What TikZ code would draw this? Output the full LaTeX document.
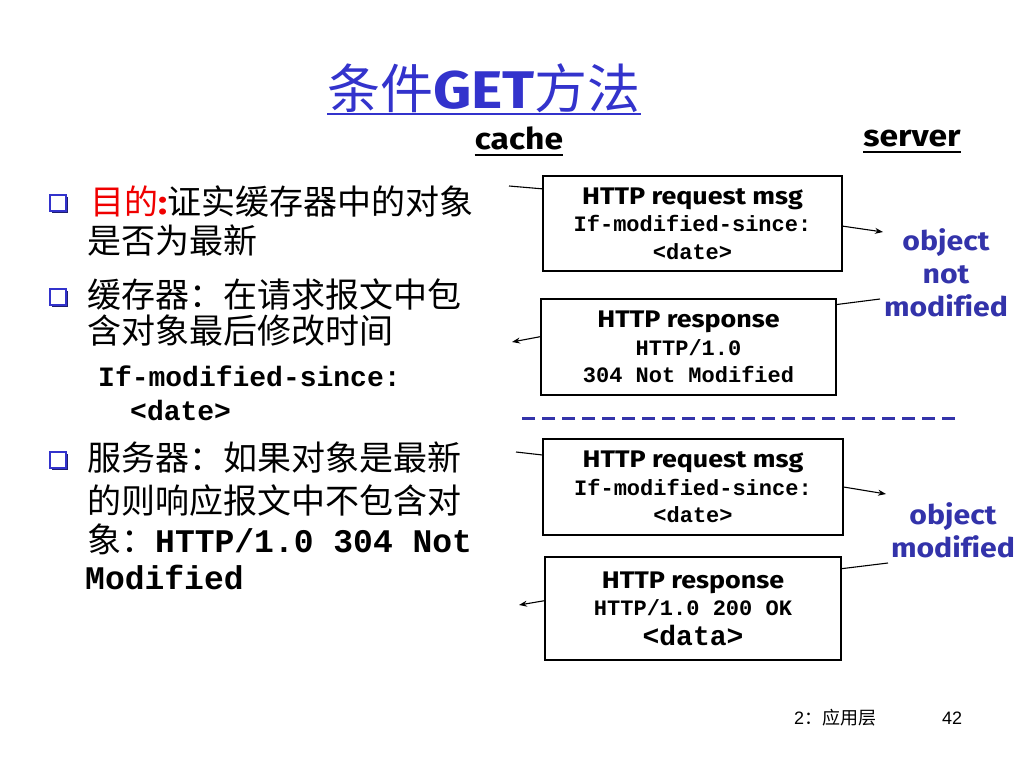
\documentclass[tikz,border=0pt]{standalone}
\usepackage{fontspec}
\setmainfont{Liberation Sans}
\newfontfamily\cjk{Noto Sans CJK SC}
\newfontfamily\comic[FakeStretch=1.12, Ligatures=NoCommon]{Fira Sans}
\newfontfamily\mono{Liberation Mono}
\usetikzlibrary{positioning, arrows.meta, shadows}

\definecolor{bleu}{RGB}{51,51,204}
\definecolor{bleufonce}{RGB}{51,51,170}
\definecolor{ombre}{RGB}{30,30,110}
\definecolor{rouge}{RGB}{240,0,0}

\tikzstyle{boite}=[rectangle, draw=black, line width=1.2pt, inner sep=0pt, align=center, font=\fontsize{22}{27.5}\selectfont]
\tikzstyle{fleche}=[line width=1.1pt, -{Stealth[length=8pt, width=6pt]}]
\tikzstyle{trait}=[line width=1.1pt]
\tikzstyle{puce}=[rectangle, draw=bleu, fill=white, line width=2.4pt, minimum size=16pt, inner sep=0pt, drop shadow={shadow xshift=2pt, shadow yshift=-2pt, fill=ombre, opacity=1}]
\tikzstyle{ligne}=[anchor=west, inner sep=0pt, font=\cjk\fontsize{34}{34}\selectfont]
\tikzstyle{etat}=[text=bleufonce, align=center, inner sep=0pt, font=\comic\bfseries\fontsize{27}{33}\selectfont]
\newcommand{\tete}[1]{{\comic\bfseries\fontsize{24}{27.5}\selectfont #1}}
\newcommand{\code}[1]{{\mono\bfseries #1}}

\begin{document}
\begin{tikzpicture}[x=1pt, y=-1pt]
        \useasboundingbox (0,0) rectangle (1024,768);
        \fill[white] (0,0) rectangle (1024,768);

        % Le titre
        \node[anchor=base, inner sep=0pt, text=bleu, font=\cjk\fontsize{53}{53}\selectfont] (titre) at (484,108) {条件{\comic\bfseries GET}方法};
        \draw[bleu, line width=2pt] ([yshift=-6pt]titre.base west) -- ([yshift=-6pt]titre.base east);
        \node[anchor=base, inner sep=0pt, font=\comic\bfseries\fontsize{30}{30}\selectfont] (cache) at (519,149) {cache};
        \draw[line width=1.8pt] ([yshift=-6pt]cache.base west) -- ([yshift=-6pt]cache.base east);
        \node[anchor=base, inner sep=0pt, font=\comic\bfseries\fontsize{30}{30}\selectfont] (server) at (912,146) {server};
        \draw[line width=1.8pt] ([yshift=-6pt]server.base west) -- ([yshift=-6pt]server.base east);

        % Les puces
        \node[puce] (p1) at (58,203) {};
        \node[puce] (p2) at (58,297) {};
        \node[puce] (p3) at (58,460) {};

        % Le texte
        \node[ligne] (l1) at (90,202) {{\color{rouge}目的{\comic\bfseries :}}证实缓存器中的对象};
        \node[ligne] (l2) at (87,241) {是否为最新};
        \node[ligne] (l3) at (87,295) {缓存器：在请求报文中包};
        \node[ligne] (l4) at (87,331) {含对象最后修改时间};
        \node[ligne, font=\mono\bfseries\fontsize{28}{28}\selectfont] (l5) at (98,376) {If-modified-since:};
        \node[ligne, font=\mono\bfseries\fontsize{28}{28}\selectfont] (l6) at (130,410) {<date>};
        \node[ligne] (l7) at (87,458) {服务器：如果对象是最新};
        \node[ligne] (l8) at (87,501) {的则响应报文中不包含对};
        \node[ligne] (l9) at (87,539) {象：{\mono\bfseries\fontsize{33}{33}\selectfont HTTP/1.0 304 Not}};
        \node[ligne, font=\mono\bfseries\fontsize{33}{33}\selectfont] (l10) at (85,577) {Modified};

        % Les boîtes
        \node[boite, minimum width=299pt, minimum height=95pt] (Q1) at (692.5,223.5) {\tete{HTTP request msg}\\ \code{If-modified-since:}\\ \code{<date>}};
        \node[boite, minimum width=295pt, minimum height=96pt] (R1) at (688.5,347) {\tete{HTTP response}\\ \code{HTTP/1.0}\\ \code{304 Not Modified}};
        \node[boite, minimum width=300pt, minimum height=96pt] (Q2) at (693,487) {\tete{HTTP request msg}\\ \code{If-modified-since:}\\ \code{<date>}};
        \node[boite, minimum width=296pt, minimum height=103pt] (R2) at (693,608.5) {\tete{HTTP response}\\ \code{HTTP/1.0 200 OK}\\[2pt] {\mono\bfseries\fontsize{28}{28}\selectfont <data>}};

        % Les états
        \node[etat] (nm) at (946,273) {object\\not\\modified};
        \node[etat] (m) at (953,530) {object\\modified};

        % La séparation
        \coordinate (s1) at (522,418);
        \coordinate (s2) at (962,418);
        \draw[bleufonce, line width=3pt, dash pattern=on 13pt off 7pt] (s1) -- (s2);

        % Les extrémités
        \coordinate (a1) at (509,186);
        \coordinate (b1) at (883,232);
        \coordinate (a2) at (880,299);
        \coordinate (b2) at (512,342);
        \coordinate (a3) at (516,452);
        \coordinate (b3) at (886,494);
        \coordinate (a4) at (888,563);
        \coordinate (b4) at (519,605);

        % Les arêtes
        \draw[trait] (a1) -- (Q1.167.7);
        \draw[fleche] (Q1.-1.3) -- (b1);
        \draw[trait] (a2) -- (R1.16.6);
        \draw[fleche] (R1.176.5) -- (b2);
        \draw[trait] (a3) -- (Q2.168.3);
        \draw[fleche] (Q2.-0.8) -- (b3);
        \draw[trait] (a4) -- (R2.15.3);
        \draw[fleche] (R2.177) -- (b4);

        % Le pied de page
        \node[anchor=base, inner sep=0pt, font=\fontsize{18}{18}\selectfont] (chap) at (835,724) {2{\cjk ：应用层}};
        \node[anchor=base, inner sep=0pt, font=\fontsize{18}{18}\selectfont] (num) at (952,724) {42};
    \end{tikzpicture}
\end{document}
